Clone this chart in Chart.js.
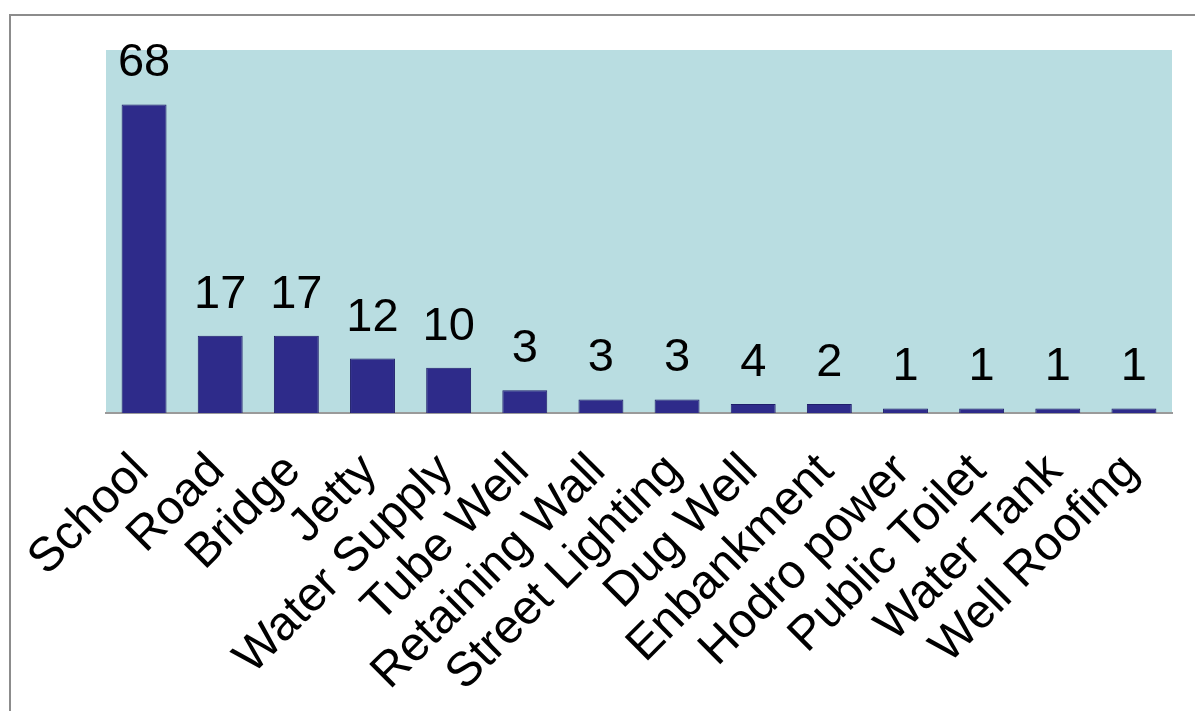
<!DOCTYPE html>
<html>
<head>
<meta charset="utf-8">
<script src="https://cdn.jsdelivr.net/npm/chart.js@4/dist/chart.umd.min.js"></script>
<style>
  html, body { margin: 0; padding: 0; background: #fff; }
  #frame {
    position: absolute; left: 9px; top: 14px; width: 1186px; height: 697px;
    border-left: 2px solid #8c8c8c; border-top: 2px solid #8c8c8c;
  }
  #wrap { position: absolute; left: 0; top: 0; width: 1195px; height: 711px; }
</style>
</head>
<body>
<div id="frame"></div>
<div id="wrap"><canvas id="projectsChart"></canvas></div>
<script>
const categories = ['School', 'Road', 'Bridge', 'Jetty', 'Water Supply', 'Tube Well',
  'Retaining Wall', 'Street Lighting', 'Dug Well', 'Enbankment', 'Hodro power',
  'Public Toilet', 'Water Tank', 'Well Roofing'];
// bar heights as drawn
const counts = [68, 17, 17, 12, 10, 5, 3, 3, 2, 2, 1, 1, 1, 1];
// numbers printed above the bars (not always the same as the bar)
const countLabels = ['68', '17', '17', '12', '10', '3', '3', '3', '4', '2', '1', '1', '1', '1'];

const fontFamily = '"Liberation Sans", Arial, sans-serif';

const plotBackground = {
  id: 'plotBackground',
  beforeDraw(chart) {
    const { ctx, chartArea: a } = chart;
    ctx.save();
    ctx.fillStyle = '#b9dde1';
    ctx.fillRect(a.left, a.top, a.right - a.left, a.bottom - a.top);
    ctx.restore();
  }
};

const valueLabels = {
  id: 'valueLabels',
  afterDatasetsDraw(chart) {
    const { ctx } = chart;
    const meta = chart.getDatasetMeta(0);
    ctx.save();
    ctx.fillStyle = '#000';
    ctx.font = '47px ' + fontFamily;
    ctx.textAlign = 'center';
    ctx.textBaseline = 'middle';
    meta.data.forEach((bar, i) => {
      ctx.fillText(countLabels[i], bar.x, bar.y - 41);
    });
    ctx.restore();
  }
};

new Chart(document.getElementById('projectsChart'), {
  type: 'bar',
  data: {
    labels: categories,
    datasets: [{
      data: counts,
      backgroundColor: '#2e2b8a',
      borderColor: '#1f1d6a',
      borderWidth: 1,
      barPercentage: 0.59,
      categoryPercentage: 1
    }]
  },
  options: {
    responsive: true,
    maintainAspectRatio: false,
    animation: false,
    layout: { padding: { left: 106, right: 23, top: 50, bottom: 0 } },
    plugins: {
      legend: { display: false },
      tooltip: { enabled: false }
    },
    scales: {
      x: {
        grid: { display: false, drawTicks: false },
        border: { display: true, color: '#9a9a9a', width: 2 },
        ticks: {
          color: '#000',
          font: { family: fontFamily, size: 48 },
          maxRotation: 45,
          minRotation: 45,
          padding: 30,
          labelOffset: -3,
          autoSkip: false
        },
        afterFit: (scale) => {
          scale.height = 298;
          scale.paddingLeft = 0;
          scale.paddingRight = 0;
        }
      },
      y: {
        display: false,
        min: 0,
        max: 80
      }
    }
  },
  plugins: [plotBackground, valueLabels]
});
</script>
</body>
</html>
